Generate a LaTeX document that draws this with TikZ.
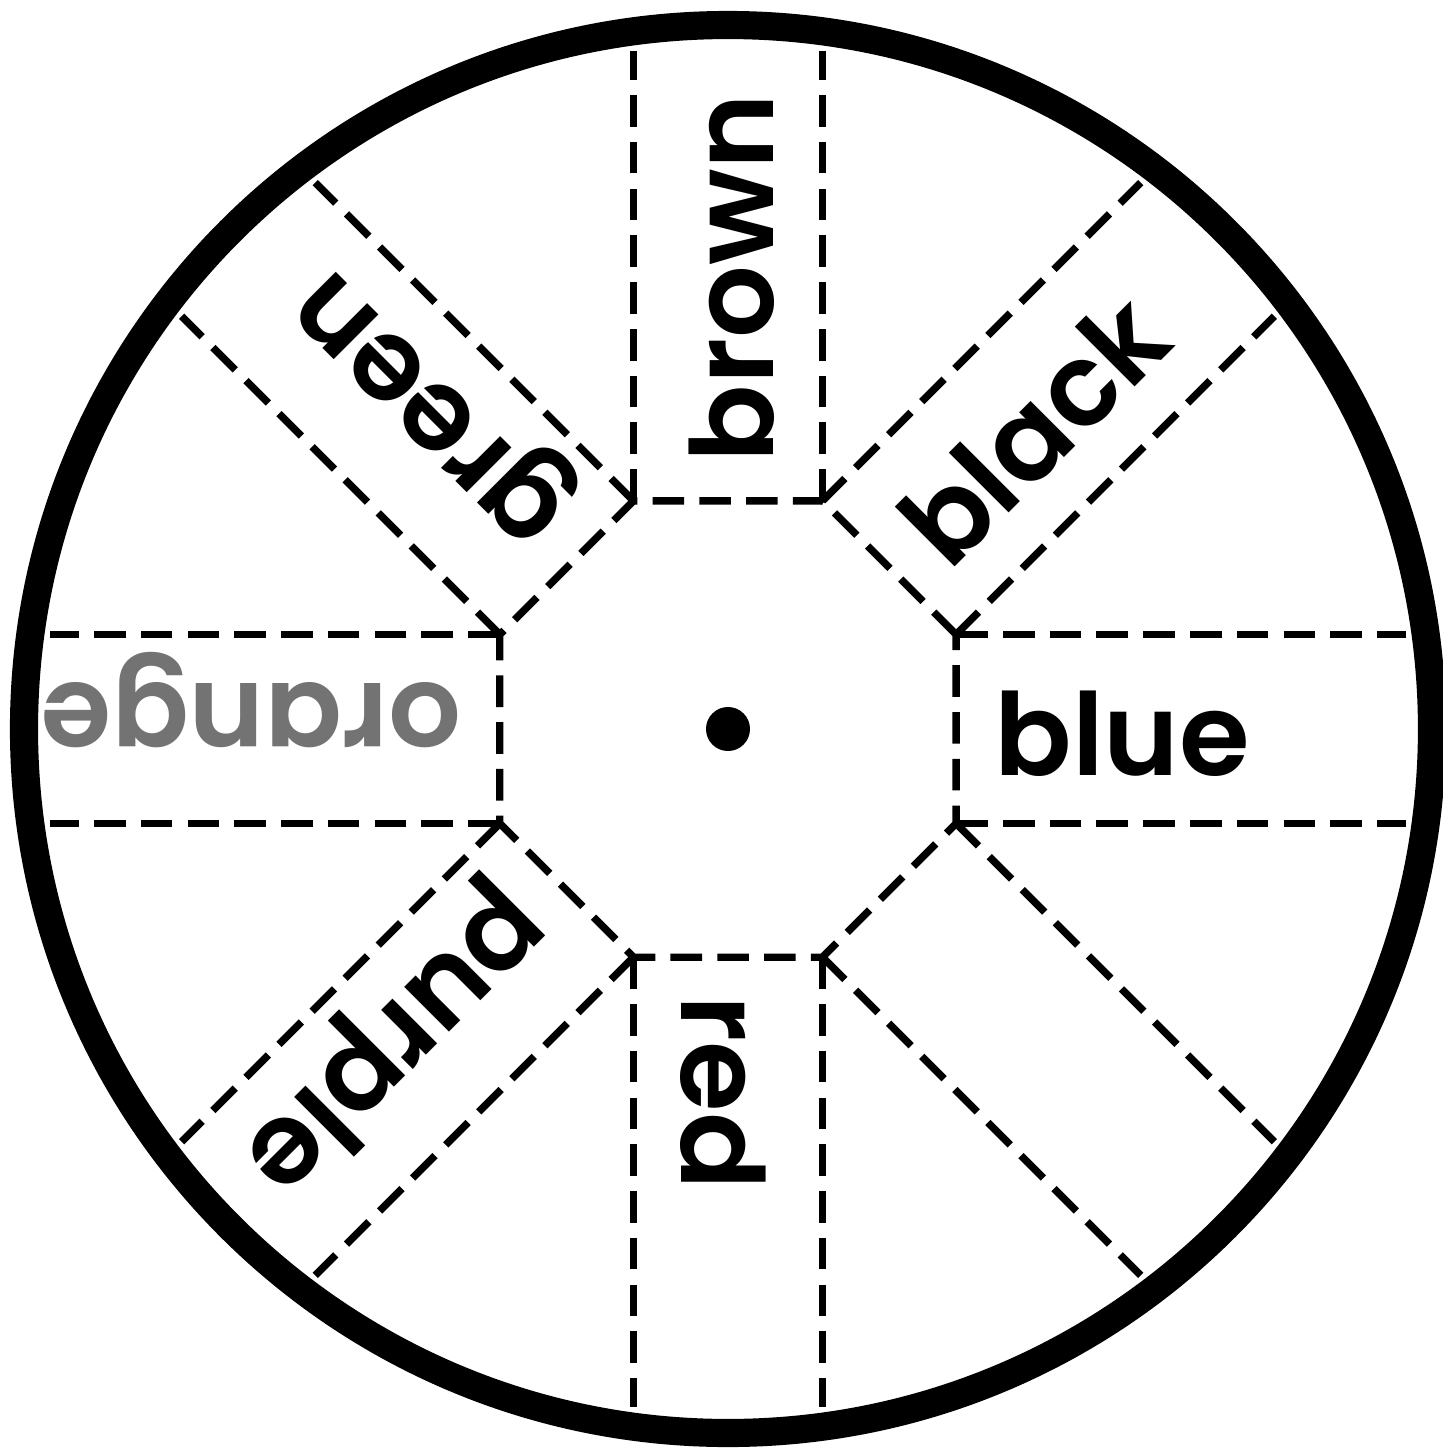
\documentclass[tikz,border=0pt]{standalone}
\usepackage{fontspec}
\setmainfont{Poppins}[BoldFont={* SemiBold}]
\usetikzlibrary{calc}
\definecolor{inkgray}{gray}{0.45}

\begin{document}
\begin{tikzpicture}[
    x=0.01cm, y=0.01cm,
    cutline/.style={line width=2.1pt, dash pattern=on 9pt off 4.3pt},
    rim/.style={line width=8pt},
    word/.style={font=\fontsize{32.5}{33}\selectfont\bfseries, inner sep=0pt, anchor=base west}
]
\useasboundingbox (-728,-721) rectangle (715,729);

% Octagon in the middle
\draw[cutline] (22.5:247) \foreach \a in {67.5,112.5,...,337.5} { -- (\a:247) } -- cycle;

% Strips going out to the rim
\foreach \a in {0,45,...,315} {
  \draw[cutline] (\a+22.5:247) -- ++(\a:450);
  \draw[cutline] (\a-22.5:247) -- ++(\a:450);
}

% Rim and hub
\draw[rim] (0,0) circle (704);
\node[circle, fill, inner sep=0pt, minimum size=0.44cm] (hub) at (0,0) {};

% Colour words
\foreach \a/\w/\c in {0/blue/black, 45/black/black, 90/brown/black, 135/green/black,
                      180/orange/inkgray, 225/purple/black, 270/red/black} {
  \node[word, text=\c, rotate=\a] (w\a) at ($(\a:266)+(\a-90:46)$) {\w};
}

\end{tikzpicture}
\end{document}
